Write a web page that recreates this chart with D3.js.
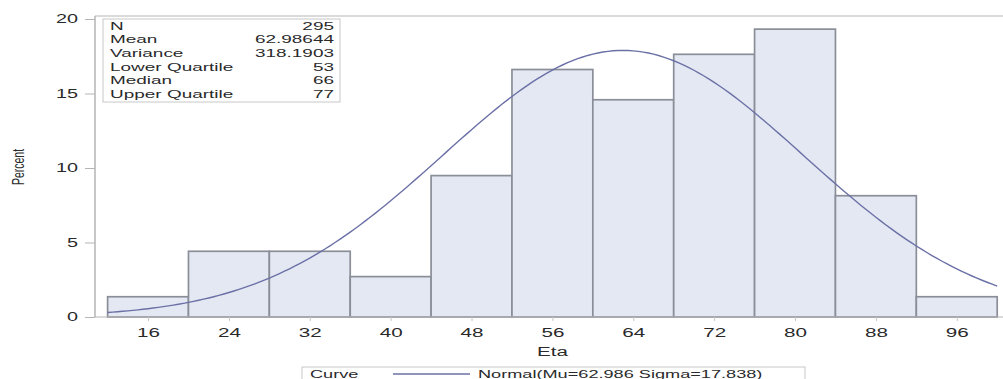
<!DOCTYPE html>
<html>
<head>
<meta charset="utf-8">
<script src="https://cdn.jsdelivr.net/npm/d3@7"></script>
<style>
  body { margin: 0; background: #fff; }
  text { font-family: "Liberation Sans", Arial, sans-serif; fill: #2a2a2a; }
</style>
</head>
<body>
<svg id="chart" width="1003" height="379"></svg>
<script>
// histogram bins (midpoints) and percent of N
const binMids = [16, 24, 32, 40, 48, 56, 64, 72, 80, 88, 96];
const percents = [1.36, 4.41, 4.41, 2.71, 9.49, 16.61, 14.58, 17.63, 19.32, 8.14, 1.36];
const binWidth = 8;
const xTicks = [16, 24, 32, 40, 48, 56, 64, 72, 80, 88, 96];
const yTicks = [0, 5, 10, 15, 20];
const statLabels = ["N", "Mean", "Variance", "Lower Quartile", "Median", "Upper Quartile"];
const statValues = ["295", "62.98644", "318.1903", "53", "66", "77"];
const mu = 62.986, sigma = 17.838;

// the picture is stretched sideways, so text is too
const sx = 1.65;

const svg = d3.select("#chart");

const x = d3.scaleLinear().domain([12, 100]).range([107.6, 997.2]);
const y = d3.scaleLinear().domain([0, 20]).range([317, 19]);

const frameLeft = 95, frameTop = 16, frameBottom = 317;

// draws stretched text at (px, py)
function label(px, py, str, anchor, size) {
  return svg.append("text")
    .attr("transform", "translate(" + px + "," + py + ") scale(" + sx + ",1)")
    .attr("text-anchor", anchor || "start")
    .style("font-size", (size || 12) + "px")
    .text(str);
}

// bars
svg.append("g").selectAll("rect")
  .data(binMids)
  .enter().append("rect")
    .attr("x", (d) => x(d - binWidth / 2))
    .attr("y", (d, i) => y(percents[i]))
    .attr("width", x(binWidth) - x(0))
    .attr("height", (d, i) => y(0) - y(percents[i]))
    .attr("fill", "#e4e8f2")
    .attr("stroke", "#8a8e98")
    .attr("stroke-width", 1.7);

// normal curve, scaled to percent per bin
const curveX = d3.range(12, 100.01, 0.5);
const line = d3.line()
  .x((d) => x(d))
  .y((d) => y(100 * binWidth * Math.exp(-0.5 * ((d - mu) / sigma) ** 2) / (sigma * Math.sqrt(2 * Math.PI))));
svg.append("path")
  .datum(curveX)
  .attr("d", line)
  .attr("fill", "none")
  .attr("stroke", "#6b70a6")
  .attr("stroke-width", 1.4);

// frame
svg.append("line").attr("x1", frameLeft).attr("x2", 1003).attr("y1", frameTop).attr("y2", frameTop)
  .attr("stroke", "#b5b5b5").attr("stroke-width", 1.2);
svg.append("line").attr("x1", frameLeft).attr("x2", frameLeft).attr("y1", frameTop).attr("y2", frameBottom)
  .attr("stroke", "#b5b5b5").attr("stroke-width", 1.5);
svg.append("line").attr("x1", frameLeft).attr("x2", 1003).attr("y1", frameBottom).attr("y2", frameBottom)
  .attr("stroke", "#b5b5b5").attr("stroke-width", 1.2);

// y axis
const yAxis = svg.append("g").attr("transform", "translate(" + frameLeft + ",0)")
  .call(d3.axisLeft(y).tickValues(yTicks).tickSize(10).tickPadding(7));
yAxis.select(".domain").remove();
yAxis.selectAll(".tick line").attr("stroke", "#b5b5b5");
yAxis.selectAll("text")
  .attr("x", null)
  .attr("transform", "translate(-17,0) scale(" + sx + ",1)")
  .style("font-size", "12px").attr("fill", "#2a2a2a");

// x axis
const xAxis = svg.append("g").attr("transform", "translate(0," + frameBottom + ")")
  .call(d3.axisBottom(x).tickValues(xTicks).tickSize(4).tickPadding(7));
xAxis.select(".domain").remove();
xAxis.selectAll(".tick line").attr("stroke", "#c8c8c8");
xAxis.selectAll("text")
  .attr("transform", "scale(" + sx + ",1)")
  .style("font-size", "12.5px").attr("fill", "#2a2a2a");

// axis titles
svg.append("text")
  .attr("transform", "translate(24,167) scale(" + sx + ",1) rotate(-90)")
  .attr("text-anchor", "middle")
  .style("font-size", "10.5px")
  .text("Percent");
label(x(56), 356, "Eta", "middle", 12.5);

// stats inset
svg.append("rect")
  .attr("x", 103).attr("y", 19).attr("width", 237).attr("height", 83)
  .attr("fill", "#fff").attr("stroke", "#c8c8c8");
statLabels.forEach((d, i) => {
  label(110, 29.5 + i * 13.7, d, "start", 11.5);
  label(334, 29.5 + i * 13.7, statValues[i], "end", 11.5);
});

// legend
svg.append("rect")
  .attr("x", 302).attr("y", 367).attr("width", 503).attr("height", 20)
  .attr("fill", "#fff").attr("stroke", "#c8c8c8");
label(310, 377.5, "Curve", "start", 11);
svg.append("line").attr("x1", 393).attr("x2", 470).attr("y1", 374).attr("y2", 374)
  .attr("stroke", "#6b70a6").attr("stroke-width", 1.4);
label(478, 377.5, "Normal(Mu=" + mu.toFixed(3) + " Sigma=" + sigma.toFixed(3) + ")", "start", 11);
</script>
</body>
</html>
